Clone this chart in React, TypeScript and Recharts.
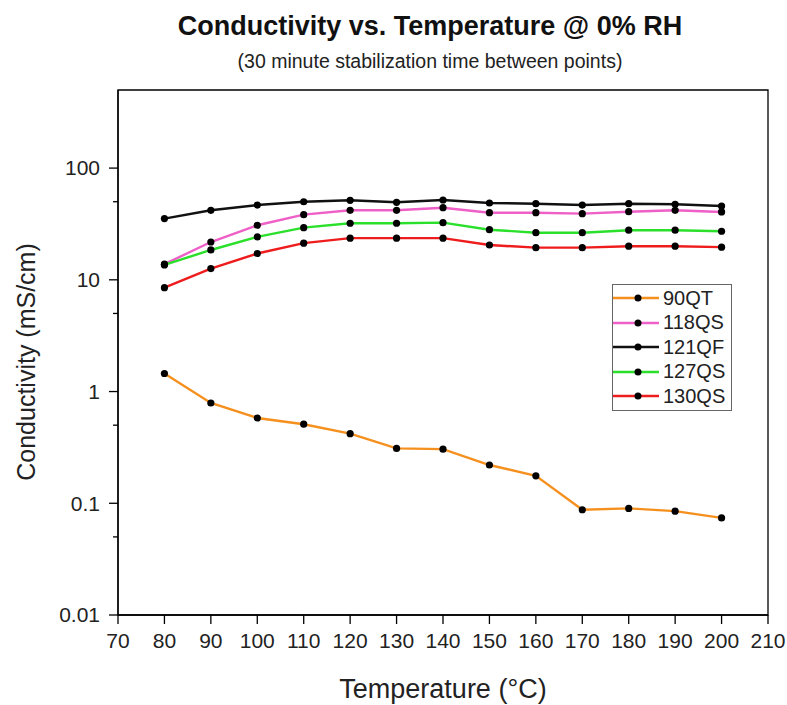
import { LineChart, Line, XAxis, YAxis, Legend, ReferenceArea } from 'recharts'

const temps = [80, 90, 100, 110, 120, 130, 140, 150, 160, 170, 180, 190, 200]

const s90QT = [1.45, 0.79, 0.58, 0.51, 0.42, 0.31, 0.305, 0.22, 0.176, 0.0875, 0.09, 0.085, 0.074]
const s118QS = [13.8, 21.8, 30.8, 38.3, 41.9, 41.9, 44.2, 39.9, 39.9, 39.1, 40.7, 41.9, 40.5]
const s121QF = [35.3, 41.9, 46.7, 50.0, 51.5, 49.4, 51.8, 48.7, 48.0, 46.7, 48.0, 47.4, 45.8]
const s127QS = [13.6, 18.5, 24.2, 29.3, 32.1, 32.1, 32.5, 28.1, 26.4, 26.4, 27.8, 27.8, 27.2]
const s130QS = [8.5, 12.6, 17.2, 21.3, 23.6, 23.6, 23.6, 20.5, 19.4, 19.4, 20.0, 20.0, 19.6]

const xTicks = [70, 80, 90, 100, 110, 120, 130, 140, 150, 160, 170, 180, 190, 200, 210]
const yTicks = [0.01, 0.05, 0.1, 0.5, 1, 5, 10, 50, 100]
const yLabels = ['0.01', '', '0.1', '', '1', '', '10', '', '100']

const series = [
    { key: 'q90', name: '90QT', color: '#F5901E', values: s90QT },
    { key: 'q118', name: '118QS', color: '#EE5FC7', values: s118QS },
    { key: 'q121', name: '121QF', color: '#111111', values: s121QF },
    { key: 'q127', name: '127QS', color: '#2BE02B', values: s127QS },
    { key: 'q130', name: '130QS', color: '#EE1C1C', values: s130QS },
]

const chartData = temps.map((t, i) => {
    const row: Record<string, number> = { temp: t }
    series.forEach((s) => {
        row[s.key] = s.values[i]
    })
    return row
})

const FONT = '"Liberation Sans", Arial, sans-serif'
const TICK = 9
const GAP = 9

const YTick = (props: any) => {
    const { x, y, index } = props
    const label = yLabels[index] ?? ''
    const major = label !== ''
    const axisX = x + TICK + GAP
    return (
        <g>
            <line x1={axisX} x2={axisX - (major ? TICK : 5)} y1={y} y2={y} stroke='#000' strokeWidth={1.3} />
            {major && (
                <text x={x} y={y} dy='0.35em' textAnchor='end' fontSize={21} fill='#222' fontFamily={FONT}>
                    {label}
                </text>
            )}
        </g>
    )
}

const LegendBox = () => (
    <div
        style={{
            border: '1px solid #666',
            background: '#fff',
            padding: '1px 6px 1px 0',
            fontFamily: FONT,
            fontSize: 20,
            color: '#222',
        }}
    >
        {series.map((s) => (
            <div key={s.key} style={{ display: 'flex', alignItems: 'center', height: 24.5 }}>
                <svg width={46} height={10} style={{ marginRight: 4 }}>
                    <line x1={0} x2={46} y1={5} y2={5} stroke={s.color} strokeWidth={2.5} />
                    <circle cx={25} cy={5} r={3.5} fill='#000' />
                </svg>
                {s.name}
            </div>
        ))}
    </div>
)

export default function App() {
    return (
        <div style={{ position: 'absolute', left: 0, top: 0, width: 787, height: 705, background: '#fff', fontFamily: FONT }}>
            <div style={{ position: 'absolute', top: 11, left: 0, width: 860, textAlign: 'center', fontSize: 27, fontWeight: 'bold', color: '#111' }}>
                Conductivity vs. Temperature @ 0% RH
            </div>
            <div style={{ position: 'absolute', top: 50, left: 0, width: 860, textAlign: 'center', fontSize: 19.5, color: '#222' }}>
                (30 minute stabilization time between points)
            </div>
            <div
                style={{
                    position: 'absolute',
                    left: 26,
                    top: 362,
                    transform: 'translate(-50%, -50%) rotate(-90deg)',
                    whiteSpace: 'nowrap',
                    fontSize: 25,
                    color: '#222',
                }}
            >
                Conductivity (mS/cm)
            </div>
            <div style={{ position: 'absolute', top: 674, left: 0, width: 886, textAlign: 'center', fontSize: 27, color: '#222' }}>
                Temperature (°C)
            </div>
            <LineChart
                width={787}
                height={705}
                data={chartData}
                margin={{ top: 90, right: 19, left: 58, bottom: 50 }}
            >
                <XAxis
                    dataKey='temp'
                    type='number'
                    domain={[70, 210]}
                    ticks={xTicks}
                    interval={0}
                    height={40}
                    tickSize={TICK}
                    tickMargin={GAP}
                    axisLine={{ stroke: '#000', strokeWidth: 1.3 }}
                    tickLine={{ stroke: '#000', strokeWidth: 1.3 }}
                    tick={{ fontSize: 21, fill: '#222', fontFamily: FONT }}
                />
                <YAxis
                    scale='log'
                    domain={[0.01, 500]}
                    allowDataOverflow
                    ticks={yTicks}
                    interval={0}
                    width={60}
                    tickSize={TICK}
                    tickMargin={GAP}
                    tickLine={false}
                    axisLine={{ stroke: '#000', strokeWidth: 1.3 }}
                    tick={<YTick />}
                />
                <ReferenceArea x1={70} x2={210} y1={0.01} y2={500} fill='none' stroke='#000' strokeWidth={1.3} />
                <Legend
                    layout='vertical'
                    verticalAlign='middle'
                    align='center'
                    content={<LegendBox />}
                    wrapperStyle={{ position: 'absolute', left: 612, top: 284, width: 'auto' }}
                />
                {series.map((s) => (
                    <Line
                        key={s.key}
                        dataKey={s.key}
                        name={s.name}
                        stroke={s.color}
                        strokeWidth={2.4}
                        dot={{ r: 3.6, fill: '#000', stroke: '#000', strokeWidth: 0 }}
                        isAnimationActive={false}
                    />
                ))}
            </LineChart>
        </div>
    )
}
